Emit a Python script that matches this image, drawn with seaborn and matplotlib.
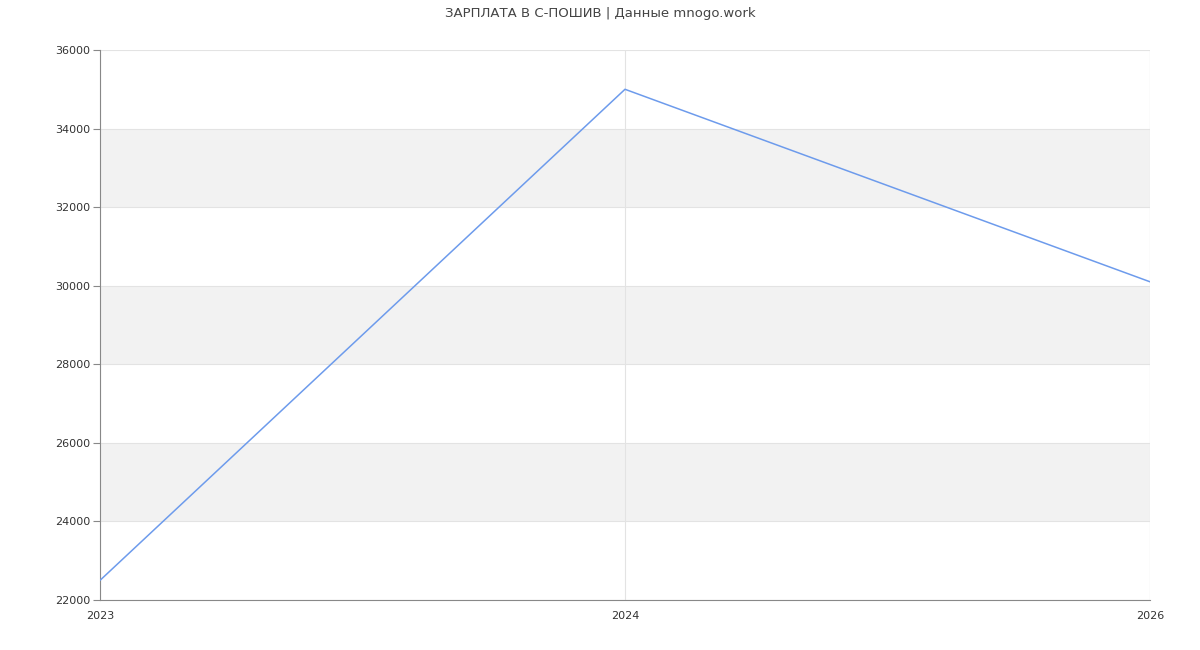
import pandas as pd
import seaborn as sns
import matplotlib.pyplot as plt

sns.set_style("white")

years = ["2023", "2024", "2026"]
salary = [22500, 35000, 30100]
y_ticks = [22000, 24000, 26000, 28000, 30000, 32000, 34000, 36000]

df = pd.DataFrame({"year": years, "salary": salary})

fig = plt.figure(figsize=(12, 6.5), dpi=100)
ax = fig.add_axes([100 / 1200, 50 / 650, 1050 / 1200, 550 / 650])

# alternating background bands
for lo, hi in zip(y_ticks[1::2], y_ticks[2::2]):
    ax.axhspan(lo, hi, color="#f2f2f2", zorder=0, lw=0)

sns.lineplot(data=df, x="year", y="salary", ax=ax, color="#6d9bec", lw=1.1, zorder=3)

ax.set_ylim(22000, 36000)
ax.set_xlim(0, len(years) - 1)
ax.set_yticks(y_ticks)
ax.set_yticklabels([str(t) for t in y_ticks])
ax.set_xlabel("")
ax.set_ylabel("")
ax.grid(True, color="#e3e3e3", lw=0.8, zorder=1)
ax.set_axisbelow(True)

for s in ["top", "right"]:
    ax.spines[s].set_visible(False)
ax.spines["left"].set_color("#888888")
ax.spines["bottom"].set_color("#888888")
ax.tick_params(axis="y", length=5, width=0.8, color="#888888", labelsize=8, labelcolor="#333333", pad=2, left=True)
ax.tick_params(axis="x", length=0, labelsize=8, labelcolor="#333333", pad=8)
for lbl in ax.get_xticklabels():
    lbl.set_x(lbl.get_position()[0])

ax.axvline(len(years) - 1, color="#e3e3e3", lw=0.8, zorder=1)

fig.suptitle("ЗАРПЛАТА В С-ПОШИВ | Данные mnogo.work", y=0.99, fontsize=9.5, color="#444444")

plt.savefig("out.png")
